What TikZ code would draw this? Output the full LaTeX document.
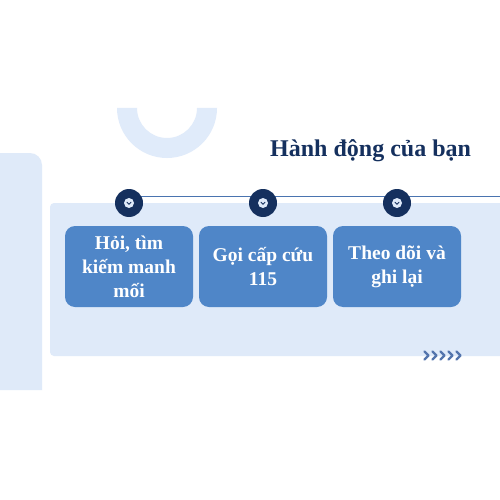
\documentclass[tikz,border=0pt]{standalone}
\usepackage{fontspec}
\setmainfont{Liberation Serif}
\definecolor{panel}{HTML}{DFEAF9}
\definecolor{ringc}{HTML}{E0EBFA}
\definecolor{boxblue}{HTML}{4F86C8}
\definecolor{navy}{HTML}{15305E}
\definecolor{linec}{HTML}{4A74B0}
\definecolor{chev}{HTML}{5475AD}
\tikzset{
  stepbox/.style={rectangle, rounded corners=10pt, fill=boxblue, minimum width=128pt, minimum height=81pt, inner sep=0pt, text=white, align=center, font=\bfseries\fontsize{19.5}{24}\selectfont},
  navydot/.style={circle, fill=navy, minimum size=28pt, inner sep=0pt},
  innerdot/.style={circle, fill=panel, minimum size=10pt, inner sep=0pt},
  titletext/.style={text=navy, font=\bfseries\fontsize{24}{27}\selectfont, inner sep=0pt},
  chevline/.style={chev, line width=2.2pt, line cap=round, line join=round},
}
\begin{document}
\begin{tikzpicture}[x=1pt,y=-1pt]
\useasboundingbox (0,0) rectangle (500,500);
\fill[white] (0,0) rectangle (500,500);
\begin{scope}
\clip (0,0) rectangle (500,500);
% left panel
\fill[panel] (-30,390) -- (-30,153) -- (30,153) arc[start angle=-90,end angle=0,radius=12] -- (42,390) -- cycle;
% ring
\fill[ringc] (217,108) arc[start angle=0,end angle=180,radius=50] -- (137,108) arc[start angle=180,end angle=0,radius=30] -- cycle;
% big panel
\fill[panel, rounded corners=4pt] (50,203) rectangle (530,356);
\end{scope}
% title
\node[titletext, anchor=base west] (title) at (270,156) {Hành động của bạn};
% line
\coordinate (lstart) at (129,196.5);
\coordinate (lend) at (500,196.5);
\draw[linec, line width=1.5pt] (lstart) -- (lend);
% dots
\foreach \i/\x in {1/129,2/263,3/397}{
  \node[navydot] (c\i) at (\x,203) {};
  \node[innerdot] (d\i) at (c\i) {};
  \begin{scope}[shift={(c\i.center)}]
    \draw[navy, line width=0.8pt, line cap=round] (-2,-0.8) -- (0,1.2) -- (2,-0.8);
  \end{scope}
}
% boxes
\node[stepbox] (b1) at (129,266.5) {Hỏi, tìm\\kiếm manh\\mối};
\node[stepbox] (b2) at (263,266.5) {Gọi cấp cứu\\115};
\node[stepbox] (b3) at (397,266.5) {Theo dõi và\\ghi lại};
% chevrons
\foreach \k in {0,...,4}{
  \coordinate (ch\k) at (424.5+8*\k,351.5);
  \draw[chevline] (ch\k) -- ++(4,4) -- ++(-4,4);
}
\end{tikzpicture}
\end{document}
